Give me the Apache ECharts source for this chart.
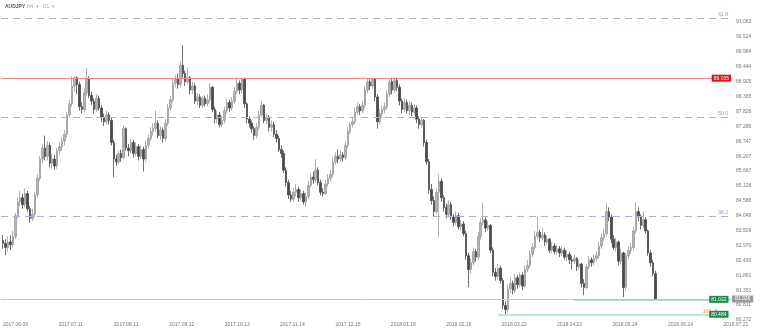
<!DOCTYPE html>
<html>
<head>
<meta charset="utf-8">
<script src="https://cdn.jsdelivr.net/npm/echarts@6/dist/echarts.min.js"></script>
<style>html,body{margin:0;padding:0;background:#fff}#c{width:760px;height:331px}</style>
</head>
<body>
<div id="c"></div>
<script>
const symbolName = 'AUDJPY';
const xTickLabels = ['2017.06.09','2017.07.11','2017.08.11','2017.09.12','2017.10.13','2017.11.14','2017.12.15','2018.01.18','2018.02.19','2018.03.22','2018.04.23','2018.05.24','2018.06.24','2018.07.21'];
const yTickLabels = ['80.272','80.811','81.351','81.891','82.430','82.970','83.509','84.049','84.588','85.128','85.667','86.207','86.747','87.286','87.826','88.365','88.905','89.444','89.984','90.524','91.063'];

const opens = [
83.15,83.05,82.90,83.10,83.00,83.30,84.05,84.55,84.70,84.45,
84.85,84.30,83.95,84.10,84.80,85.40,86.10,86.50,86.20,86.60,
85.95,86.10,85.85,86.40,86.55,86.75,87.00,87.70,88.10,88.75,
89.05,88.80,88.00,87.90,88.50,89.00,88.40,88.20,87.90,88.30,
87.95,87.60,87.45,87.70,87.50,86.70,86.10,86.00,86.30,86.15,
87.20,86.50,86.40,86.70,86.30,86.55,86.20,86.45,86.10,86.60,
86.85,87.10,87.20,87.40,86.95,87.15,86.85,87.40,87.95,88.25,
88.85,89.00,88.80,89.50,89.20,88.90,89.05,88.60,88.75,88.20,
88.35,88.05,88.30,88.10,88.25,88.70,87.90,87.55,87.70,87.35,
87.50,87.85,88.15,87.95,88.20,88.55,88.85,88.60,89.00,88.10,
87.55,87.40,87.20,86.95,87.25,87.70,88.05,87.50,87.60,87.25,
87.35,87.00,86.85,86.45,86.30,85.70,85.25,84.80,84.65,84.90,
85.00,84.70,84.85,84.55,84.75,85.15,85.45,85.35,85.70,85.25,
84.90,84.85,85.20,85.40,85.55,86.00,86.20,86.10,86.25,86.15,
86.60,87.10,87.35,87.45,87.80,88.00,87.85,88.05,88.60,88.90,
88.75,89.00,88.35,87.45,87.75,87.90,88.00,88.45,88.90,88.60,
88.95,88.70,88.20,87.90,88.15,87.85,88.05,87.80,87.95,87.55,
87.35,87.50,86.70,86.00,85.00,84.60,84.20,84.90,85.30,84.70,
84.35,84.10,84.45,84.00,83.80,84.05,83.65,83.75,83.40,82.60,
82.10,82.35,82.75,82.55,83.30,83.80,83.90,83.60,83.70,82.80,
82.00,81.85,82.15,81.70,80.80,80.65,81.40,81.60,81.35,81.80,
81.55,81.90,81.50,82.10,82.25,82.65,82.90,83.30,83.45,83.25,
83.35,83.10,83.20,82.80,82.95,82.75,82.85,82.70,82.80,82.55,
82.65,82.45,82.40,82.50,82.20,82.30,81.60,81.45,82.20,82.45,
82.35,82.50,82.60,82.95,83.25,83.40,84.20,84.00,83.20,82.90,
83.10,82.40,82.70,81.45,82.60,82.80,82.90,83.50,84.20,84.00,
83.70,83.90,83.50,82.70,82.35,81.95];

const closes = [
83.05,82.90,83.10,83.00,83.30,84.05,84.55,84.70,84.45,84.85,
84.30,83.95,84.10,84.80,85.40,86.10,86.50,86.20,86.60,85.95,
86.10,85.85,86.40,86.55,86.75,87.00,87.70,88.10,88.75,89.05,
88.80,88.00,87.90,88.50,89.00,88.40,88.20,87.90,88.30,87.95,
87.60,87.45,87.70,87.50,86.70,86.10,86.00,86.30,86.15,87.20,
86.50,86.40,86.70,86.30,86.55,86.20,86.45,86.10,86.60,86.85,
87.10,87.20,87.40,86.95,87.15,86.85,87.40,87.95,88.25,88.85,
89.00,88.80,89.50,89.20,88.90,89.05,88.60,88.75,88.20,88.35,
88.05,88.30,88.10,88.25,88.70,87.90,87.55,87.70,87.35,87.50,
87.85,88.15,87.95,88.20,88.55,88.85,88.60,89.00,88.10,87.55,
87.40,87.20,86.95,87.25,87.70,88.05,87.50,87.60,87.25,87.35,
87.00,86.85,86.45,86.30,85.70,85.25,84.80,84.65,84.90,85.00,
84.70,84.85,84.55,84.75,85.15,85.45,85.35,85.70,85.25,84.90,
84.85,85.20,85.40,85.55,86.00,86.20,86.10,86.25,86.15,86.60,
87.10,87.35,87.45,87.80,88.00,87.85,88.05,88.60,88.90,88.75,
89.00,88.35,87.45,87.75,87.90,88.00,88.45,88.90,88.60,88.95,
88.70,88.20,87.90,88.15,87.85,88.05,87.80,87.95,87.55,87.35,
87.50,86.70,86.00,85.00,84.60,84.20,84.90,85.30,84.70,84.35,
84.10,84.45,84.00,83.80,84.05,83.65,83.75,83.40,82.60,82.10,
82.35,82.75,82.55,83.30,83.80,83.90,83.60,83.70,82.80,82.00,
81.85,82.15,81.70,80.80,80.65,81.40,81.60,81.35,81.80,81.55,
81.90,81.50,82.10,82.25,82.65,82.90,83.30,83.45,83.25,83.35,
83.10,83.20,82.80,82.95,82.75,82.85,82.70,82.80,82.55,82.65,
82.45,82.40,82.50,82.20,82.30,81.60,81.45,82.20,82.45,82.35,
82.50,82.60,82.95,83.25,83.40,84.20,84.00,83.20,82.90,83.10,
82.40,82.70,81.45,82.60,82.80,82.90,83.50,84.20,84.00,83.70,
83.90,83.50,82.70,82.35,81.95,81.03];

const highs = [
83.35,83.20,83.30,83.35,83.50,84.15,84.70,84.95,84.85,85.05,
84.95,84.40,84.30,84.90,85.55,86.20,86.65,86.95,86.75,86.70,
86.30,86.25,86.50,86.70,86.90,87.15,87.80,88.25,89.10,89.10,
89.10,88.90,88.15,88.65,89.40,89.10,88.55,88.30,88.45,88.40,
88.05,87.75,87.85,87.80,87.60,86.80,86.25,86.40,86.45,87.33,
87.25,86.65,86.85,86.80,86.70,86.65,86.60,86.55,86.75,87.00,
87.25,87.40,87.87,87.50,87.30,87.25,87.55,88.10,88.40,89.00,
89.15,89.20,89.65,90.23,89.30,89.40,89.10,88.90,88.85,88.50,
88.45,88.40,88.40,88.45,88.85,88.75,88.00,87.85,87.80,87.65,
88.00,88.30,88.25,88.35,88.70,89.05,88.95,89.07,89.05,88.15,
87.65,87.50,87.30,87.40,87.85,88.20,88.10,87.75,87.70,87.50,
87.45,87.15,86.95,86.60,86.40,85.80,85.35,84.95,85.05,85.20,
85.10,85.00,84.95,84.90,85.30,85.60,85.65,86.10,85.80,85.35,
85.05,85.35,85.55,85.70,86.15,86.35,86.45,86.40,86.35,86.75,
87.25,87.45,87.60,87.95,88.15,88.10,88.20,88.75,89.03,89.00,
89.05,89.03,88.45,87.90,88.05,88.15,88.60,89.00,89.05,89.07,
89.05,88.80,88.30,88.30,88.25,88.20,88.15,88.10,88.05,87.65,
87.60,87.55,86.80,86.10,85.20,84.75,85.05,85.55,85.40,84.80,
84.50,84.60,84.55,84.10,84.20,84.15,83.90,83.85,83.50,82.70,
82.50,82.90,82.85,83.45,83.95,84.50,84.00,83.85,83.75,82.90,
82.15,82.30,82.25,81.80,80.95,81.55,81.80,81.70,81.95,81.90,
82.00,82.00,82.25,82.45,82.80,83.05,83.50,84.00,83.55,83.60,
83.45,83.35,83.25,83.10,83.05,83.00,82.95,82.95,82.90,82.80,
82.75,82.60,82.65,82.55,82.45,82.35,81.75,82.30,82.60,82.55,
82.65,82.75,83.10,83.40,83.55,84.50,84.35,84.10,83.35,83.25,
83.15,82.85,82.75,82.70,82.95,83.05,83.65,84.55,84.35,84.10,
84.20,84.00,83.55,82.80,82.45,82.05];

const lows = [
82.85,82.62,82.75,82.80,82.90,83.20,83.95,84.40,84.30,84.35,
84.20,83.80,83.85,84.00,84.70,85.30,85.95,86.05,86.05,85.80,
85.75,85.70,85.75,86.25,86.40,86.60,86.90,87.60,88.00,88.55,
88.45,87.85,87.75,87.80,88.40,88.30,88.05,87.75,87.80,87.85,
87.45,87.30,87.35,87.35,86.60,85.45,85.85,85.90,86.00,86.10,
86.40,86.20,86.30,86.15,86.20,86.05,86.10,85.65,86.00,86.50,
86.75,86.95,87.10,86.85,86.80,86.70,86.75,87.30,87.85,88.15,
88.70,88.65,88.70,89.05,88.75,88.80,88.45,88.45,88.10,88.05,
87.95,87.95,88.00,88.00,88.15,87.80,87.40,87.40,87.25,87.25,
87.40,87.75,87.80,87.85,88.10,88.45,88.45,88.50,87.95,87.40,
87.25,87.05,86.80,86.85,87.15,87.60,87.40,87.35,87.10,87.10,
86.90,86.70,86.35,86.15,85.60,85.10,84.65,84.55,84.55,84.75,
84.55,84.60,84.45,84.36,84.65,85.05,85.20,85.25,85.15,84.79,
84.75,84.80,85.10,85.30,85.45,85.90,85.95,86.00,86.00,86.05,
86.50,87.00,87.25,87.35,87.70,87.70,87.75,87.95,88.50,88.60,
88.65,88.20,87.20,87.35,87.60,87.75,87.90,88.35,88.45,88.50,
88.55,88.05,87.75,87.80,87.75,87.70,87.65,87.70,87.40,87.20,
87.25,86.55,85.90,84.85,84.45,84.00,84.10,83.27,84.55,84.20,
83.95,84.00,83.90,83.65,83.70,83.55,83.50,83.30,82.45,81.46,
81.95,82.25,82.40,82.45,83.20,83.70,83.45,83.50,82.70,81.85,
81.70,81.75,81.60,80.65,80.48,80.55,81.25,81.20,81.25,81.40,
81.45,81.35,81.45,82.00,82.15,82.55,82.80,83.20,83.10,83.15,
82.95,83.00,82.70,82.70,82.65,82.65,82.55,82.60,82.45,82.40,
82.30,82.10,82.30,82.05,82.10,81.45,81.17,81.40,82.10,82.20,
82.25,82.40,82.50,82.85,83.15,83.30,83.85,83.05,82.80,82.75,
82.25,82.30,81.10,81.35,82.50,82.65,82.80,83.40,83.85,83.55,
83.60,83.40,82.60,82.20,81.85,81.00];

// reference levels
const fibValues = [91.20, 87.62, 84.04];
const fibNames = ['61.8', '50.0', '38.2'];
const resistanceValue = 89.035;
const resistanceText = '89.035';
const bidValue = 81.026;
const bidText = '81.026';
const supportHighValue = 81.02;
const supportHighText = '81.022';
const supportHighStart = 232;
const supportLowValue = 80.48;
const supportLowText = '80.484';
const supportLowStart = 201;
const extensionText = '161.8';
const levelsEnd = 295;

const candles = closes.map((c, i) => [i, opens[i], c, lows[i], highs[i]]);

const yMin = 80.272, yStep = 0.53955;
const xMin = -0.811, xStep = 22.5;
const FONT = 'Liberation Sans';

const chart = echarts.init(document.getElementById('c'), null, {renderer: 'canvas'});
chart.setOption({
  animation: false,
  backgroundColor: '#ffffff',
  graphic: [
    {type: 'text', left: 5, top: 4, style: {text: symbolName, font: 'bold 5px "Liberation Sans"', fill: '#555'}},
    {type: 'text', left: 27, top: 4, style: {text: 'H4  \u25BE', font: '5px "Liberation Sans"', fill: '#aaa'}},
    {type: 'text', left: 43, top: 4, style: {text: 'D1  \u25BE', font: '5px "Liberation Sans"', fill: '#aaa'}}
  ],
  grid: {left: 0, right: 28, top: 10, bottom: 11, containLabel: false},
  xAxis: {
    type: 'value', min: xMin, max: 296.03, interval: xStep,
    axisLine: {show: false}, axisTick: {show: false}, splitLine: {show: false},
    axisLabel: {
      fontSize: 5, fontFamily: FONT, color: '#777', align: 'left', margin: 2, padding: [0, 0, 0, 2],
      formatter: function (v) {
        const k = Math.round((v - xMin) / xStep);
        if (k < 0 || k >= xTickLabels.length || Math.abs(v - (xMin + k * xStep)) > 0.01) return '';
        return xTickLabels[k];
      }
    }
  },
  yAxis: {
    type: 'value', position: 'right', scale: true, min: yMin, max: 91.5, interval: yStep,
    axisLine: {show: false}, axisTick: {show: false}, splitLine: {show: false},
    axisLabel: {
      fontSize: 5, fontFamily: FONT, color: '#777', margin: 4,
      formatter: function (v) {
        const k = Math.round((v - yMin) / yStep);
        if (k < 0 || k >= yTickLabels.length || Math.abs(v - (yMin + k * yStep)) > 0.001) return '';
        return yTickLabels[k];
      }
    }
  },
  series: [{
    type: 'candlestick',
    data: candles,
    barWidth: 2,
    itemStyle: {color: '#b4b4b4', color0: '#4a4a4a', borderColor: '#9c9c9c', borderColor0: '#4a4a4a', borderWidth: 0.8},
    markLine: {
      silent: true, symbol: 'none', animation: false,
      data: [
        ...fibValues.map((v, i) => ({
          yAxis: v, name: fibNames[i],
          lineStyle: {color: '#b7a6ec', type: [7, 5], width: 1},
          label: {show: true, position: 'insideEndTop', formatter: '{b}', color: '#a58ee0', fontSize: 5, fontFamily: FONT, distance: [4, 1]}
        })),
        {
          yAxis: resistanceValue, name: resistanceText,
          lineStyle: {color: '#f08a86', type: 'solid', width: 1},
          label: {show: true, position: 'insideEnd', formatter: '{b}', color: '#fff', backgroundColor: '#d7161b', fontSize: 5, fontFamily: FONT, padding: [1, 2], distance: 1}
        },
        {
          yAxis: bidValue, name: bidText,
          lineStyle: {color: '#c9c9c9', type: 'solid', width: 1},
          label: {show: true, position: 'end', formatter: '{b}', color: '#fff', backgroundColor: '#9b9b9b', fontSize: 5, fontFamily: FONT, padding: [1, 3], distance: 0}
        },
        [
          {coord: [supportLowStart, supportLowValue], name: extensionText,
           lineStyle: {color: '#a9dcca', type: 'solid', width: 1.5},
           label: {show: true, position: 'insideEndTop', formatter: '{b}', color: '#f5a623', fontSize: 6, fontFamily: FONT, distance: [12, 0]}},
          {coord: [levelsEnd, supportLowValue]}
        ],
        [
          {coord: [supportHighStart, supportHighValue], name: supportHighText,
           lineStyle: {color: '#98ccb9', type: 'solid', width: 1.5},
           label: {show: true, position: 'insideEnd', formatter: '{b}', color: '#fff', backgroundColor: '#1b8a4f', fontSize: 5, fontFamily: FONT, padding: [1, 2], distance: 1}},
          {coord: [levelsEnd, supportHighValue]}
        ],
        [
          {coord: [supportLowStart, supportLowValue], name: supportLowText,
           lineStyle: {color: '#a9dcca', type: 'solid', width: 0},
           label: {show: true, position: 'insideEnd', formatter: '{b}', color: '#fff', backgroundColor: '#1b8a4f', fontSize: 5, fontFamily: FONT, padding: [1, 2], distance: 1}},
          {coord: [levelsEnd, supportLowValue]}
        ]
      ]
    }
  }]
});
</script>
</body>
</html>
